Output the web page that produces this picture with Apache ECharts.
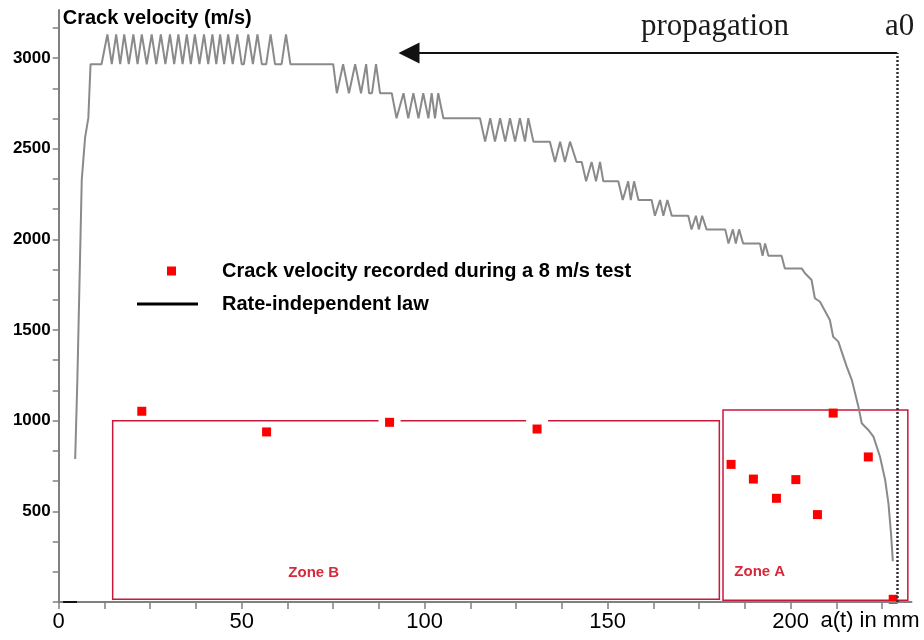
<!DOCTYPE html>
<html><head><meta charset="utf-8">
<script src="https://cdn.jsdelivr.net/npm/echarts@6/dist/echarts.min.js"></script>
<style>html,body{margin:0;padding:0;background:#fff}#c{width:924px;height:640px}</style>
</head><body><div id="c"></div>
<script>
// Rate-independent law (grey stepped curve)
const lawX = [4.5, 5.1, 6.3, 7.2, 8.1, 8.7, 11.7, 12.1,
  13.3, 14.5, 15.7, 16.8, 17.9, 19.15, 20.4, 21.55, 22.7, 24.05, 25.4, 26.65, 27.9, 29.15,
  30.4, 31.55, 32.7, 33.85, 35.0, 36.1, 37.2, 38.45, 39.7, 40.85, 42.0, 43.05, 44.1, 45.2,
  46.3, 47.55, 48.8, 50.0, 50.6, 51.8, 53.05, 54.3, 55.5, 56.7, 57.9, 59.1, 60.9, 62.1, 63.3,
  75.0, 76.0, 77.7, 79.3, 81.0, 82.6, 84.0, 84.8, 85.6, 86.7, 87.8, 91.0,
  92.3, 94.2, 95.5, 96.9, 98.3, 99.6, 101.0, 101.9, 102.8, 103.7, 105.1, 115.1,
  116.5, 117.9, 119.2, 120.6, 122.0, 123.3, 124.7, 126.0, 127.4, 128.3, 129.7, 134.2,
  135.6, 137.0, 138.3, 139.7, 141.5, 142.9,
  144.1, 145.6, 146.8, 147.9, 148.8, 152.9,
  154.1, 155.6, 156.3, 157.2, 158.4, 162.0,
  162.9, 164.3, 165.2, 166.3, 167.5, 172.0,
  172.9, 174.1, 174.9, 175.8, 177.0, 182.1,
  183.0, 184.2, 185.0, 185.9, 187.0, 191.6,
  192.3, 193.0, 193.9, 197.5,
  198.4, 203.0, 203.9, 205.7, 206.6, 208.0, 210.7, 211.6, 213.0, 215.3, 216.7, 218.5,
  219.4, 221.2, 222.6, 224.4, 225.8, 226.7, 227.4, 227.9];
const lawY = [789, 1225, 2328, 2560, 2670, 2966, 2966, 2966,
  3130, 2966, 3130, 2966, 3130, 2966, 3130, 2966, 3130, 2966, 3130, 2966, 3130, 2966,
  3130, 2966, 3130, 2966, 3130, 2966, 3130, 2966, 3130, 2966, 3130, 2966, 3130, 2966,
  3130, 2966, 3130, 2966, 2966, 3130, 2966, 3130, 2966, 2966, 3130, 2966, 2966, 3130, 2966,
  2966, 2806, 2966, 2806, 2966, 2806, 2966, 2806, 2806, 2966, 2806, 2806,
  2668, 2806, 2668, 2806, 2668, 2806, 2668, 2806, 2668, 2806, 2668, 2668,
  2539, 2668, 2539, 2668, 2539, 2668, 2539, 2668, 2539, 2668, 2539, 2539,
  2427, 2539, 2427, 2539, 2427, 2427,
  2320, 2427, 2320, 2427, 2320, 2320,
  2217, 2320, 2217, 2320, 2217, 2217,
  2130, 2217, 2130, 2217, 2130, 2130,
  2055, 2130, 2055, 2130, 2055, 2055,
  1977, 2055, 1977, 2055, 1977, 1977,
  1910, 1977, 1910, 1910,
  1840, 1840, 1813, 1776, 1675, 1656, 1555, 1463, 1436, 1298, 1224, 1077,
  986, 949, 912, 801, 673, 544, 379, 225];
// short dark segment on the x axis near the origin
const startX = [1.2, 5.0];
const startY = [0, 0];
// Crack velocity recorded during a 8 m/s test
const testX = [22.7, 56.8, 90.4, 130.7, 183.7, 189.8, 196.1, 201.4, 207.3, 211.6, 221.2, 228.0];
const testY = [1052, 938, 991, 954, 759, 678, 572, 675, 482, 1042, 800, 15];
// white gaps cut in the Zone B border around the two points lying on it
const gapX = [90.4, 130.7];
const gapY = [991, 975];
// ticks and labels
const xTicks = [0, 12.5, 25, 37.5, 50, 62.5, 75, 87.5, 100, 112.5, 125, 137.5, 150, 162.5, 175, 187.5, 200, 212.5, 225];
const xLabels = [0, 50, 100, 150, 200];
const yTicks = [0, 166.67, 333.33, 500, 666.67, 833.33, 1000, 1166.67, 1333.33, 1500, 1666.67, 1833.33,
  2000, 2166.67, 2333.33, 2500, 2666.67, 2833.33, 3000, 3166.67];
const yLabels = [500, 1000, 1500, 2000, 2500, 3000];
// zones [xMin, yMin, xMax, yMax]
const zoneB = [14.75, 15, 180.5, 1000];
const zoneA = [181.5, 10, 232.0, 1059];
// initial crack tip a0 and propagation arrow
const a0X = 229.1;
const arrowY = 3028;
const arrowEndX = 95.7;

const FONT = '"Liberation Sans", Arial, sans-serif';
const zip = (xs, ys) => xs.map((x, i) => [x, ys[i]]);
const chart = echarts.init(document.getElementById('c'), null, {renderer: 'canvas'});
const LAW = 'Rate-independent law';
const TEST = 'Crack velocity recorded during a 8 m/s test';

chart.setOption({
  animation: false,
  backgroundColor: '#fff',
  grid: {left: 58.7, right: 12.5, top: 10, bottom: 38, containLabel: false, outerBoundsMode: 'none'},
  xAxis: {
    type: 'value', min: 0, max: 233, z: 3,
    name: 'a(t) in mm', nameLocation: 'end', nameGap: 8,
    nameTextStyle: {align: 'right', verticalAlign: 'top', fontSize: 22, color: '#000', fontFamily: FONT, padding: [8, 0, 0, 0]},
    axisLine: {show: true, onZero: false, lineStyle: {color: '#808080', width: 2}},
    axisTick: {show: true, customValues: xTicks, length: 7, inside: false, lineStyle: {color: '#808080', width: 1.5}},
    axisLabel: {customValues: xLabels, formatter: v => String(v), fontSize: 22, color: '#000', fontFamily: FONT, margin: 9},
    splitLine: {show: false}
  },
  yAxis: {
    type: 'value', min: 0, max: 3265, z: 3,
    name: 'Crack velocity (m/s)', nameLocation: 'end', nameGap: -8,
    nameTextStyle: {align: 'left', verticalAlign: 'middle', fontSize: 20, fontWeight: 'bold', color: '#000', fontFamily: FONT, padding: [0, 0, 0, 4]},
    axisLine: {show: true, onZero: false, lineStyle: {color: '#808080', width: 2}},
    axisTick: {show: true, customValues: yTicks, length: 6, lineStyle: {color: '#808080', width: 1.5}},
    axisLabel: {customValues: yLabels, formatter: v => String(v), fontSize: 17, fontWeight: 'bold', color: '#000', fontFamily: FONT, margin: 8},
    splitLine: {show: false}
  },
  legend: [
    {
      left: 167, top: 261, padding: 0, orient: 'vertical', selectedMode: false,
      itemWidth: 9, itemHeight: 9,
      data: [{name: TEST, icon: 'rect', itemStyle: {color: '#ff0000', borderWidth: 0, opacity: 1}}],
      textStyle: {fontSize: 20, fontWeight: 'bold', color: '#000', fontFamily: FONT, padding: [0, 0, 0, 41]}
    },
    {
      left: 137, top: 294, padding: 0, orient: 'vertical', selectedMode: false,
      itemWidth: 61, itemHeight: 3,
      data: [{name: LAW, icon: 'rect', itemStyle: {color: '#000', borderWidth: 0}}],
      textStyle: {fontSize: 20, fontWeight: 'bold', color: '#000', fontFamily: FONT, padding: [0, 0, 0, 19]}
    }
  ],
  graphic: [
    {type: 'text', left: 641, top: 11, style: {text: 'propagation', font: '31px "Liberation Serif", "Times New Roman", serif', fill: '#1a1a1a'}},
    {type: 'text', left: 885, top: 11, style: {text: 'a0', font: '31px "Liberation Serif", "Times New Roman", serif', fill: '#1a1a1a'}}
  ],
  series: [
    {
      name: LAW, type: 'line', showSymbol: false, symbol: 'none', silent: true,
      data: zip(lawX, lawY),
      lineStyle: {color: '#8a8a8a', width: 2},
      itemStyle: {color: '#8a8a8a'},
      markArea: {
        silent: true,
        itemStyle: {color: 'rgba(0,0,0,0)', borderColor: '#c8183c', borderWidth: 1.5},
        label: {show: true, formatter: '{b}', color: '#d42a3c', fontSize: 15, fontWeight: 'bold', fontFamily: FONT},
        data: [
          [{name: 'Zone B', coord: [zoneB[0], zoneB[1]], label: {position: ['29%', '81%']}}, {coord: [zoneB[2], zoneB[3]]}],
          [{name: 'Zone A', coord: [zoneA[0], zoneA[1]], label: {position: ['6.5%', '81%']}}, {coord: [zoneA[2], zoneA[3]]}]
        ]
      },
      markLine: {
        silent: true, symbol: ['none', 'none'], label: {show: false},
        data: [
          [{coord: [a0X, arrowY], lineStyle: {color: '#111', width: 2, type: 'solid'}},
           {coord: [arrowEndX, arrowY], symbol: 'triangle', symbolSize: 21, lineStyle: {color: '#111', width: 2, type: 'solid'}}],
          [{coord: [a0X, 0], lineStyle: {color: '#333', width: 2.5, type: [2, 2]}},
           {coord: [a0X, arrowY], lineStyle: {color: '#333', width: 2.5, type: [2, 2]}}]
        ]
      }
    },
    {
      name: 'start', type: 'line', showSymbol: false, symbol: 'none', silent: true,
      data: zip(startX, startY),
      lineStyle: {color: '#111', width: 2}
    },
    {
      name: 'gap', type: 'scatter', silent: true, symbol: 'rect', symbolSize: [22, 12],
      data: zip(gapX, gapY), itemStyle: {color: '#ffffff', opacity: 1}
    },
    {
      name: TEST, type: 'scatter', silent: true, symbol: 'rect', symbolSize: 9,
      data: zip(testX, testY), itemStyle: {color: '#ff0000', opacity: 1}
    }
  ]
});
</script>
</body></html>
